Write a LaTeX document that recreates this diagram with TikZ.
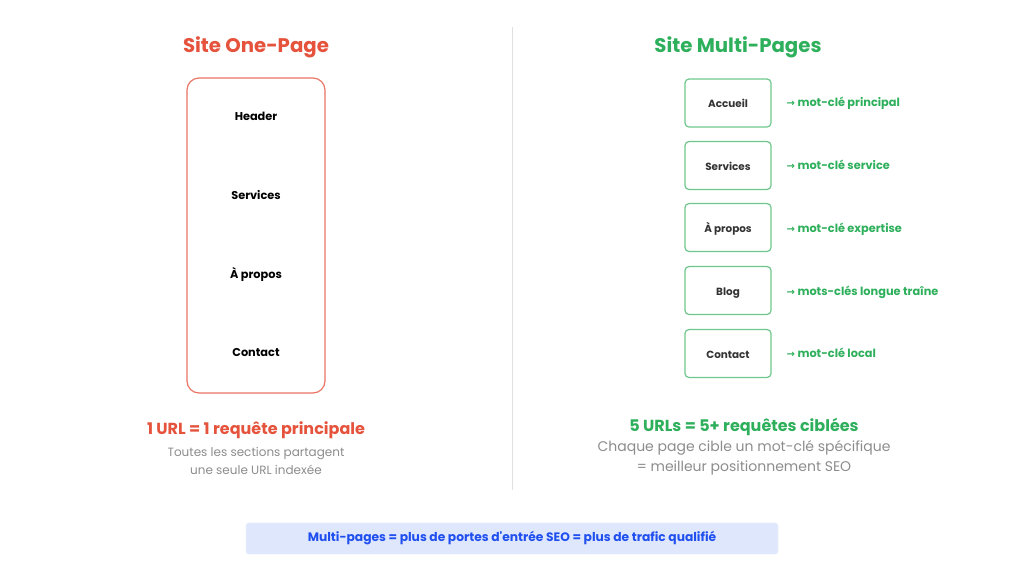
\documentclass[tikz,border=0pt]{standalone}
\usepackage{fontspec}
\setmainfont{Poppins}
\newfontfamily\plainfont{Poppins}
\newfontfamily\arrowfont{DejaVu Sans}
\usepackage{xcolor}
\usepackage{tikz}
\usetikzlibrary{positioning}
\definecolor{onered}{HTML}{E5533D}
\definecolor{multigreen}{HTML}{2EAF5B}
\definecolor{seoblue}{HTML}{1F4FEF}
\definecolor{seofill}{HTML}{DFE7FD}
\definecolor{notegray}{HTML}{8C8C8C}
\definecolor{labelgray}{HTML}{333333}

\begin{document}
\begin{tikzpicture}[x=0.75pt, y=-0.75pt,
  title/.style={font=\fontsize{14.8}{16}\selectfont\bfseries},
  section/.style={font=\fontsize{8.5}{10}\selectfont\bfseries, text=black},
  pagebox/.style={draw=multigreen!70, line width=0.9pt, rounded corners=3pt, minimum width=64.5pt, minimum height=36pt, text height=1.6ex, text depth=0.3ex, font=\fontsize{7.8}{9}\selectfont\bfseries, text=labelgray},
  keyword/.style={font=\fontsize{8.5}{10}\selectfont\bfseries, text=multigreen, anchor=west, text height=1.6ex, text depth=0.3ex},
  note/.style={text=notegray, align=center}]
  \useasboundingbox (0,0) rectangle (1024,576);
  % divider
  \draw[black!12, line width=0.6pt] (512,27) -- (512,490);
  % one-page side
  \node[title, text=onered] (oneTitle) at (256,47) {Site One-Page};
  \draw[onered!80, line width=0.9pt, rounded corners=9pt] (187,78) rectangle (325,393);
  \node[section] (header) at (256,116) {Header};
  \node[section] (servicesOne) at (256,195) {Services};
  \node[section] (aboutOne) at (256,274) {À propos};
  \node[section] (contactOne) at (256,353) {Contact};
  \node[font=\fontsize{12}{14}\selectfont\bfseries, text=onered] (oneUrl) at (256,430) {1 URL = 1 requête principale};
  \node[note, font=\fontsize{9}{13.5}\selectfont] (oneNote) at (256,461) {Toutes les sections partagent\\une seule URL indexée};
  % multi-pages side
  \node[title, text=multigreen] (multiTitle) at (738,47) {Site Multi-Pages};
  \node[pagebox] (accueil) at (728,103) {Accueil};
  \node[pagebox] (services) at (728,165.5) {Services};
  \node[pagebox] (about) at (728,227.5) {À propos};
  \node[pagebox] (blog) at (728,290.5) {Blog};
  \node[pagebox] (contact) at (728,353.5) {Contact};
  \node[keyword] (kwAccueil) at (782,102) {{\arrowfont\fontsize{7.5}{8}\selectfont →} mot-clé principal};
  \node[keyword] (kwServices) at (782,165) {{\arrowfont\fontsize{7.5}{8}\selectfont →} mot-clé service};
  \node[keyword] (kwAbout) at (782,228) {{\arrowfont\fontsize{7.5}{8}\selectfont →} mot-clé expertise};
  \node[keyword] (kwBlog) at (782,291) {{\arrowfont\fontsize{7.5}{8}\selectfont →} mots-clés longue traîne};
  \node[keyword] (kwContact) at (782,353) {{\arrowfont\fontsize{7.5}{8}\selectfont →} mot-clé local};
  \node[font=\fontsize{12}{14}\selectfont\bfseries, text=multigreen] (multiUrl) at (744,427) {5 URLs = 5+ requêtes ciblées};
  \node[note, font=\fontsize{10.5}{15}\selectfont] (multiNote) at (744,458) {Chaque page cible un mot-clé spécifique\\= meilleur positionnement SEO};
  % bottom banner
  \node[fill=seofill, draw=seoblue!8, rounded corners=2pt, minimum width=399pt, minimum height=23.5pt, font=\plainfont\fontsize{9.2}{11}\selectfont\bfseries, text=seoblue] (banner) at (512,538.5) {Multi-pages = plus de portes d'entrée SEO = plus de trafic qualifié};
\end{tikzpicture}
\end{document}
